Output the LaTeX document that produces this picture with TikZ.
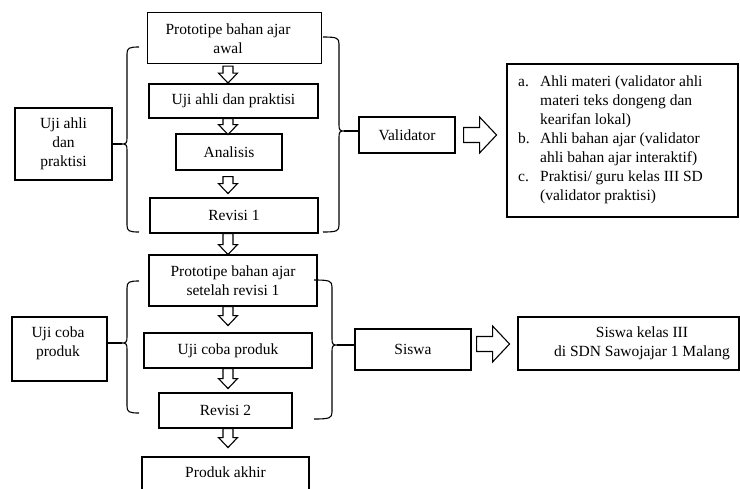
\documentclass[tikz,border=0pt]{standalone}
\usepackage{fontspec}
\setmainfont{Liberation Serif}
\usetikzlibrary{calc}
\newcommand\mybraceL[5]{%
 \draw[br] ({#1+#5},#2) .. controls ({#1+2},#2) and (#1,{#2+1}) .. (#1,{#2+7})
  -- (#1,{#4-6}) .. controls (#1,{#4-1}) and ({#1-1},#4) .. ({#1-5},#4)
  .. controls ({#1-1},#4) and (#1,{#4+1}) .. (#1,{#4+6})
  -- (#1,{#3-7}) .. controls (#1,{#3-1}) and ({#1+2},#3) .. ({#1+#5},#3);}
\newcommand\mybraceR[5]{%
 \draw[br] ({#1-#5},#2) .. controls ({#1-2},#2) and (#1,{#2+1}) .. (#1,{#2+7})
  -- (#1,{#4-6}) .. controls (#1,{#4-1}) and ({#1+1},#4) .. ({#1+5},#4)
  .. controls ({#1+1},#4) and (#1,{#4+1}) .. (#1,{#4+6})
  -- (#1,{#3-7}) .. controls (#1,{#3-1}) and ({#1-2},#3) .. ({#1-#5},#3);}
\newcommand\hdown[3]{%
 \coordinate (ht) at ($(axis |- #1.south)+(0,#2)$);
 \draw[hol] ($(ht)+(-5,0)$) -- ($(ht)+(5,0)$) -- ($(ht)+(5,{#3-10})$) -- ($(ht)+(9.5,{#3-10})$) -- ($(ht)+(0,#3)$) -- ($(ht)+(-9.5,{#3-10})$) -- ($(ht)+(-5,{#3-10})$) -- cycle;}
\newcommand\hright[3]{%
 \coordinate (hs) at ($(#1.east)+(#2,#3)$);
 \draw[hol] ($(hs)+(0,-7.5)$) -- ($(hs)+(16,-7.5)$) -- ($(hs)+(16,-18)$) -- ($(hs)+(33,0)$) -- ($(hs)+(16,18)$) -- ($(hs)+(16,7.5)$) -- ($(hs)+(0,7.5)$) -- cycle;}
\begin{document}
\begin{tikzpicture}[x=1pt,y=-1pt,
 box/.style={draw,line width=1.1pt,inner sep=0pt,align=center,font=\fontsize{15.5}{19}\selectfont},
 txt/.style={inner sep=0pt,align=center,font=\fontsize{15.5}{19}\selectfont},
 hol/.style={draw,line width=1.1pt,fill=white,line join=miter},
 br/.style={draw,line width=1.1pt}]
\useasboundingbox[fill=white] (0,0) rectangle (740,488);
\coordinate (axis) at (228,0);
% central column
\node[box,minimum width=174pt,minimum height=51pt] (top) at (234.5,38) {};
\node[txt] (toptxt) at (228,38.5) {Prototipe bahan ajar\\awal};
\node[box,minimum width=169pt,minimum height=34pt] (uji) at (233.5,101) {Uji ahli dan praktisi};
\node[box,minimum width=106pt,minimum height=36pt] (anal) at (229,152) {Analisis};
\node[box,minimum width=168pt,minimum height=35pt] (rev1) at (234,215.5) {Revisi 1};
\node[box,minimum width=168pt,minimum height=51pt] (proto2) at (233,280.5) {Prototipe bahan ajar\\setelah revisi 1};
\node[box,minimum width=168pt,minimum height=35pt] (ujicoba) at (228,350.5) {Uji coba produk};
\node[box,minimum width=133pt,minimum height=35pt] (rev2) at (225.5,410.5) {Revisi 2};
\node[box,minimum width=167pt,minimum height=43pt] (produk) at (225.5,478.5) {};
\node[txt] (produktxt) at (225.5,472) {Produk akhir};
% left labels
\node[box,minimum width=97pt,minimum height=72pt] (lefttop) at (63.5,144) {Uji ahli\\dan\\praktisi};
\node[box,minimum width=95pt,minimum height=64pt] (leftbot) at (59.5,349) {};
\node[txt] (leftbottxt) at (58,343) {Uji coba\\produk};
% right side
\node[box,minimum width=96pt,minimum height=36pt] (valid) at (407,135) {Validator};
\node[box,minimum width=231pt,minimum height=153pt] (list) at (622.5,140.5) {};
\node[txt,anchor=north west,align=left] (listtxt) at (518,73) {%
 \begin{tabular}{@{}p{22pt}@{}l@{}}
 a. & Ahli materi (validator ahli\\
    & materi teks dongeng dan\\
    & kearifan lokal)\\
 b. & Ahli bahan ajar (validator\\
    & ahli bahan ajar interaktif)\\
 c. & Praktisi/ guru kelas III SD\\
    & (validator praktisi)
 \end{tabular}};
\node[box,minimum width=116pt,minimum height=41pt] (siswa) at (413,349.5) {Siswa};
\node[box,minimum width=221pt,minimum height=53pt] (siswak) at (628.5,343.5) {};
\node[txt] (siswaktxt) at (642,343) {Siswa kelas III\\di SDN Sawojajar 1 Malang};
% down arrows
\hdown{top}{2}{17}
\hdown{uji}{0}{16}
\hdown{anal}{6}{17}
\hdown{rev1}{0}{21}
\hdown{proto2}{0}{19}
\hdown{ujicoba}{0}{20}
\hdown{rev2}{0}{19}
% right arrows
\hright{valid}{8}{0}
\hright{siswa}{5}{-5.5}
% braces
\mybraceL{127}{47}{232}{144}{12}
\coordinate (tipL1) at (122,144);
\draw[br] (tipL1) -- (tipL1 -| lefttop.east);
\mybraceL{127}{281}{413}{343}{12}
\coordinate (tipL2) at (122,343);
\draw[br] (tipL2) -- (tipL2 -| leftbot.east);
\mybraceR{339}{37}{232}{131}{16}
\coordinate (tipR1) at (344,131);
\draw[br] (tipR1) -- (tipR1 -| valid.west);
\mybraceR{332}{280}{419}{345}{18}
\coordinate (tipR2) at (337,345);
\draw[br] (tipR2) -- (tipR2 -| siswa.west);
\end{tikzpicture}
\end{document}
